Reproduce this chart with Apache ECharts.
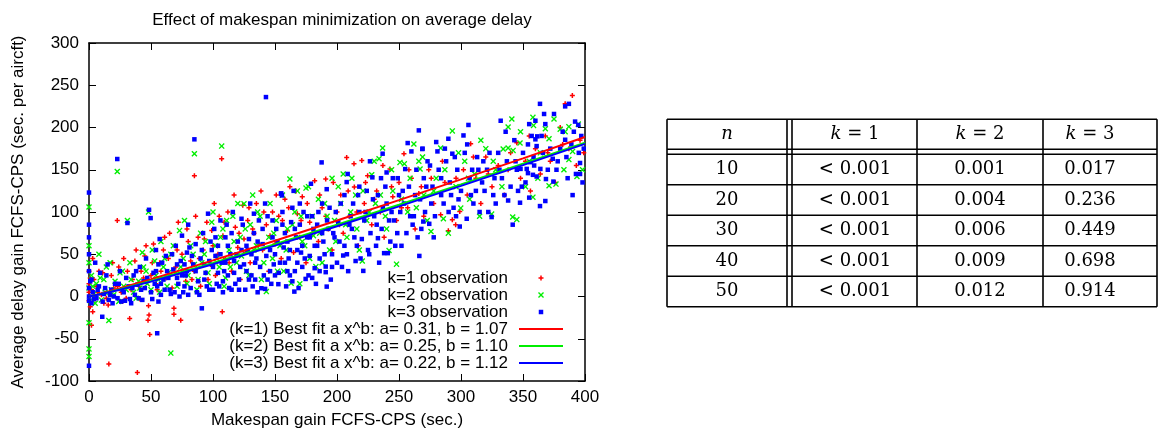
<!DOCTYPE html>
<html><head><meta charset="utf-8">
<script src="https://cdn.jsdelivr.net/npm/echarts@6/dist/echarts.min.js"></script>
<style>html,body{margin:0;padding:0;background:#fff}#c{width:1159px;height:431px}</style>
</head><body><div id="c"></div>
<script>
// ---------------- data ----------------
const k1Obs = [[0,5],[0,-5],[0,15],[0,30],[1,-12],[2,-34],[2,8],[3,45],[4,20],[5,-3],[6,12],[8,30],[10,2],[12,-8],[15.5,-10],[16,-80],[18,25],[20,10],[22.8,90],[24,35],[26,5],[28,45],[30,-2],[32.8,-26],[35,20],[38,55],[39,-90],[40,12],[42,30],[45,48],[47.6,-28],[48.4,-22],[48,-11],[49,-45],[50,25],[52,62],[55,8],[57,40],[60,55],[62,22],[65,75],[68.5,-14],[68.5,-21],[70,35],[72,88],[74,-28],[75,50],[78,18],[80,65],[82,42],[85,143],[85,30],[88,70],[90,12],[92,55],[95,88],[98,38],[100,60],[102,25],[105,95],[107,163],[107.5,-18],[108,72],[110,45],[112,100],[115,30],[118,82],[120,58],[122,20],[124,108],[125,68],[128,90],[130,40],[133,75],[135,110],[138.7,125],[140,55],[143,85],[145,30],[148,100],[150,62],[153,95],[155,45],[158,115],[160,78],[162,130],[165,52],[168,98],[170,70],[172,118],[175,40],[178,88],[182,137],[185,65],[188,105],[190.9,139],[193,80],[196,55],[200,100],[203,120],[205,75],[207.8,164.6],[210,95],[213.7,157],[214,129.5],[217,60],[220,161],[222,110],[224.7,142.8],[228,85],[232,125],[235,100],[238,70],[242.7,150.8],[245,118],[248,90],[250,135],[254,169],[257,105],[260,140],[263,80],[266,122],[270,95],[274,150],[278,110],[283.6,96.7],[287,135],[289.8,77.7],[293,90.8],[295.7,84.8],[299,100.6],[302,150],[305,120],[307.8,180.8],[312,140],[316,110],[320,165],[325,130],[330,155],[335,120],[340,170],[345,182],[348,140],[352,160],[356,125],[360,175],[364,145],[368,190],[372,160],[376,135],[380,200],[384,228],[387,175],[389.8,238],[393,155],[396,185],[399,170],
[1,22],[3,-18],[7,5],[11,28],[14,-2],[19,40],[23,12],[27,-6],[31,30],[34,8],[37,42],[41,-3],[44,22],[46,60],[51,40],[54,15],[58,30],[61,70],[64,45],[67,10],[71,55],[76,30],[79,80],[83,20],[86,95],[89,45],[93,68],[96,20],[99,78],[101,110],[104,50],[109,88],[113,40],[117,120],[121,75],[126,52],[129,105],[132,80],[137,62],[141,100],[146,72],[151,120],[156,90],[161,105],[167,125],[171,90],[176,110],[180,75],[186,120],[191,95],[197,135],[202,85],[209,125],[216,100],[223,135],[230,115],[237,155],[244,130],[252,105],[258,150],[268,130],[276,140],[285,160],[296,140],[310,165],[322,145],[338,150],[355,190],[370,170],[382,180]];

const k2Obs = [[0,106],[0,-62],[0,-71],[0,-31],[0,10],[0,40],[0,60],[1,-5],[2,25],[4,3],[6,15],[8,50],[10,-4],[12,20],[14,35],[16,-28.5],[18,8],[20,2],[22.8,148],[25,28],[28,12],[31,90],[33,40],[36,5],[40,18],[43,52],[46,30],[48,100],[50,8],[53,42],[56,20],[58,65],[60,35],[63,12],[66,-67],[66,50],[70,28],[73,78],[76,45],[79,15],[82,60],[85,169],[85,38],[88,20],[90,75],[93,50],[96,28],[99,88],[102,60],[105,35],[107,178],[108,80],[110,22],[113,55],[116,95],[119,40],[122,70],[125,109.7],[127,30],[130,85],[133,55],[136,100],[139,20],[143,5.8],[145,70],[148,45],[151,90],[154,60],[157,30],[160,80],[162,139],[163,15.7],[166,100],[170,15],[172,65],[175,128.3],[178,45],[180,95],[183,35.4],[186,75],[190,110],[194,55],[198,90],[201,130],[205,145],[208,70],[211,100],[215,120],[218,55],[220.4,42],[224,90],[228,144],[231,110],[233.9,163],[236.8,175.7],[240,80],[242,54.4],[245,125],[248,38.3],[250.8,158.7],[254.3,157],[257,100],[262,180.4],[266,160],[267,150.8],[270,120],[272.8,90],[275.8,76.9],[280,140],[283.6,175.7],[285.8,92],[289.8,75],[293,196],[296,130],[299.8,104.6],[303,160],[307,115],[311,145],[315,95],[320,175],[324.7,97.5],[328,150],[334,174.5],[338,175.7],[338,200.6],[341,210],[341.7,94],[342,172.9],[345,91],[347.6,181.6],[352,130],[355,160],[358,212],[358,117.6],[358.5,202.5],[362,140],[368,198.6],[371,186.7],[371,131],[376.6,133],[380,198],[384,195],[387,201],[387,162],[390,171.7],[393.5,142],[394.6,204],[398,150],
[3,12],[5,-8],[9,22],[13,5],[17,40],[21,18],[24,-6],[27,30],[30,8],[34,20],[38,-2],[41,10],[44,35],[47,15],[51,55],[54,25],[57,5],[61,45],[64,28],[68,60],[71,12],[74,35],[77,90],[80,25],[84,50],[87,8],[91,40],[94,65],[97,15],[100,100],[103,45],[106,70],[109,12],[111,90],[114,35],[117,65],[120,110],[123,48],[126,80],[129,25],[132,120],[135,60],[138,95],[141,40],[146,110],[149,75],[152,30],[156,120],[159,55],[164,85],[168,125],[171,95],[174,60],[177,130],[181,72],[185,115],[188,40],[192,95],[196,140],[199,65],[203,110],[207,85],[212,140],[216,80],[221,125],[226,100],[230,160],[235,120],[239,95],[244,150],[252,115],[259,140],[264,105],[269,165],[278,125],[287,150],[298,170],[306,140],[316,185],[326,160],[333,130],[348,195],[364,170],[375,210],[383,150]];

const k3Obs = [[0,123],[0,-82],[0,85],[0,70],[0,50],[0,30],[0,10],[0,-5],[0,0],[1,18],[2,-8],[3,5],[5,40],[6,-2],[8,12],[10.7,-24],[12,3],[14,25],[16,-4],[18,8],[20,0],[22.8,162.7],[24,15],[26,-6],[28,5],[31,87],[30,22],[33,-3],[35,10],[38,30],[40,-2],[42,8],[44,18],[48.4,102.6],[49.7,92.8],[46,45],[50,5],[52,28],[54,55],[55,-43.5],[55,12],[56,38],[57,68],[58,2],[60,20],[62,48],[65,8],[68,32],[70,60],[72,15],[74,42],[75,72],[76,5],[78,25],[79,52],[80,85],[82,10],[84,38],[85,186],[86,62],[88,18],[90,45],[91,-14],[92,75],[94,28],[96,98],[97,8],[99,55],[100,35],[101,80],[103,15],[104,60],[106,90],[107,40],[108,5],[110,70],[112,25],[114,50],[116,100],[118,15],[120,65],[122,35],[124,85],[126,8],[128,55],[130,110],[131,25],[133,75],[135,45],[136,5],[139,9.8],[140,62],[142,9],[142.7,236],[144,95],[146,30],[148,70],[150,50],[152.7,14.6],[154.8,121.6],[155,122],[155.6,119.6],[156,85],[158,40],[160,65],[162,25],[164,105],[165,125],[165.6,5.8],[168,55],[170,85],[172,35],[174.7,20.8],[176,70],[179,133.4],[180,95],[182,33.5],[184,60],[187.6,158.7],[188,110],[190.9,28.8],[190.9,35.4],[191.7,11.7],[191.7,127],[193,80],[196,50],[199,100],[202,65],[205,48.5],[207.8,135.4],[208.6,145],[210,85],[213,110],[216,60],[218,130],[221.2,30.3],[222,90],[226.6,160],[227,75],[228.5,141],[231.5,60],[233,69],[235.5,140],[236.8,169],[238,51.3],[240,146.8],[241,51.3],[244,100],[248.6,75],[250,120],[255,150.8],[256,75],[257,181.6],[260,171.7],[262,95],[266,196.6],[266.4,48],[268,80],[268.8,174.5],[269,175],[269.6,88.7],[272,130],[274.4,86],[276,110],[280,182.8],[281,171.7],[284,140],[287,175],[289.8,186.7],[292,120],[293,169],[296,95],[299,82.8],[302,190.6],[304.6,92],[306,203],[309,150],[312,125],[315,100],[318,160],[322,100],[324.7,94],[327,140],[332,208],[335,120],[338,113.6],[341.7,85],[345,150],[347.6,111],[348,151],[353,151],[354,146],[355,117],[355,204],[356,159],[358,144],[358.5,165],[360,208],[360,186],[361,142],[361,178],[361.5,189.5],[363.7,228],[363.7,107],[364,151],[367,216],[368,204],[368,113],[368.5,139],[374,163],[374.5,136],[375,216],[380,175],[384,225],[384,185.5],[387,228],[390,120],[392,207],[392.7,145],[394.6,203],[396,158],[398,135],[399,175],
[58,15],[63,30],[66,3],[71,22],[77,38],[81,58],[87,5],[93,20],[98,65],[102,48],[105,12],[109,30],[111,85],[115,8],[117,42],[121,20],[123,55],[127,30],[129,68],[132,12],[134,40],[137,90],[141,25],[143,48],[147,15],[149,38],[151,80],[153,28],[157,58],[159,12],[161,45],[163,88],[166,30],[167,70],[169,10],[171,52],[173,100],[177,25],[178,48],[181,80],[183,15],[185,100],[186,45],[189,65],[192,90],[195,20],[197,75],[200,40],[203,110],[206,60],[209,30],[211,95],[214,70],[217,120],[219,45],[223,100],[225,55],[229,115],[232,85],[234,40],[237,105],[239,130],[243,65],[246,90],[249,140],[252,60],[254,110],[258,130],[261,85],[264,150],[267,115],[271,100],[273,160],[277,130],[279,95],[282,150],[286,110],[288,160],[291,135],[294,105],[297,150],[300,125],[303,170],[307,140],[310,110],[313,165],[317,135],[321,150],[326,120],[330,170],[333,140],[337,160],[340,130],[343,185],[346,125],[350,170],[352,135],[357,190],[366,170],[370,150],[378,160],[382,195],[386,140],[389,180],[395,170],[397,190],
[2,20],[4,-3],[7,8],[9,28],[11,-6],[13,10],[15,38],[17,2],[19,-8],[21,15],[23,-2],[25,30],[27,8],[29,-5],[32,12],[34,-8],[36,25],[37,2],[39,14],[41,35],[43,-4],[45,10],[47,22],[51,-3],[53,15],[54,30],[56,-6],[59,40],[61,8],[64,22],[67,50],[69,5],[71,38],[73,0],[75,25],[77,12],[79,30],[80,2],[83,48],[86,30],[89,2],[91,55],[93,38],[95,12],[97,42],[100,8],[102,70],[104,28],[106,50],[108,18],[110,40],[112,60],[113,10],[115,75],[117,28],[119,50],[121,8],[123,92],[125,38],[127,60],[129,20],[131,50],[133,98],[134,20],[136,65],[138,35],[140,80],[142,110],[144,20],[146,55],[148,90],[150,25],[152,65],[154,40],[156,100],[158,75],[160,30],[162,55],[164,18],[166,80],[168,40],[170,110],[172,60],[174,45],[176,95],[178,70],[180,22],[182,60],[184,85],[186,30],[188,75],[190,50],[194,105],[196,35],[198,70],[201,88],[204,35],[206,120],[208,50],[212,80],[215,42],[218,100],[220,68],[224,125],[226,50],[230,95],[233,120],[236,80],[240,110],[242,90],[245,140],[247,60],[251,100],[253,125],[259,95],[263,120],[265,70],[270,140],[275,155],[278,70],[284,120],[290,100],[295,165],[298,115],[305,180],[308,120],[314,150],[319,125],[323,170],[328,110],[331,150],[336,195],[344,160],[349,130],[354,180],[359,155],[365,190],[372,175],[377,150],[385,165],[391,195],[396,145]];

const fitX  = [0, 10, 25, 50, 100, 150, 200, 250, 300, 350, 400];
const k1Fit = [0, 3.6, 9.7, 20.4, 42.8, 66.0, 89.9, 114.1, 138.6, 163.5, 188.7];
const k2Fit = [0, 3.1, 8.6, 18.5, 39.6, 61.9, 85.0, 108.5, 132.7, 157.2, 182.0];
const k3Fit = [0, 2.9, 8.1, 17.6, 38.2, 60.2, 83.1, 106.7, 130.9, 155.5, 180.6];

const obsNames = ['k=1 observation', 'k=2 observation', 'k=3 observation'];
const fitNames = ['(k=1) Best fit a x^b: a= 0.31, b = 1.07',
                  '(k=2) Best fit a x^b: a= 0.25, b = 1.10',
                  '(k=3) Best fit a x^b: a= 0.22, b = 1.12'];

const titleText = 'Effect of makespan minimization on average delay';
const xName = 'Makespan gain FCFS-CPS (sec.)';
const yName = 'Average delay gain FCFS-CPS (sec. per aircft)';

const tableHeader = ['{i|n}', '{i|k} = 1', '{i|k} = 2', '{i|k} = 3'];
const tableN  = ['10', '20', '30', '40', '50'];
const tableK1 = ['< 0.001', '< 0.001', '< 0.001', '< 0.001', '< 0.001'];
const tableK2 = ['0.001', '0.004', '0.006', '0.009', '0.012'];
const tableK3 = ['0.017', '0.236', '0.449', '0.698', '0.914'];

// ---------------- styles / layout ----------------
const COLORS = ['#ff0000', '#00ee00', '#0000ff'];
const SYM_PLUS = 'path://M3.5,0H6.5V3.5H10V6.5H6.5V10H3.5V6.5H0V3.5H3.5Z';
const SYM_X = 'path://M0,1.6L1.6,0L5,3.4L8.4,0L10,1.6L6.6,5L10,8.4L8.4,10L5,6.6L1.6,10L0,8.4L3.4,5Z';
const SYM_SQ = 'path://M0,0H10V10H0Z';
const symbols = [SYM_PLUS, SYM_X, SYM_SQ];
const symSizes = [5, 6, 4.5];
const FONT = 'Liberation Sans, Arial, Helvetica, sans-serif';
const SERIF = 'DejaVu Serif, Liberation Serif, serif';

function zip(xs, ys) { return xs.map((x, i) => [x, ys[i]]); }
const obsData = [k1Obs, k2Obs, k3Obs];
const fitData = [zip(fitX, k1Fit), zip(fitX, k2Fit), zip(fitX, k3Fit)];

const series = [];
obsNames.forEach((n, i) => series.push({
  name: n, type: 'scatter', data: obsData[i], symbol: symbols[i], symbolSize: symSizes[i],
  itemStyle: { color: COLORS[i], opacity: 1 }, z: 2 + i * 0.01, silent: true
}));
fitNames.forEach((n, i) => series.push({
  name: n, type: 'line', data: fitData[i], symbol: 'none', smooth: false,
  lineStyle: { color: COLORS[i], width: 2 }, itemStyle: { color: COLORS[i] }, z: 4 + i * 0.01, silent: true
}));

// legend: one component per row, text right-aligned, sample on the right
const LEG_RIGHT = 596, LEG_W = 44;
const rowCenters = [278, 295, 312, 329, 346, 363];
const legTextStyle = { fontSize: 17, fontFamily: FONT, color: '#000', lineHeight: 17, padding: [0, 6, 0, 0] };
const legends = [];
obsNames.forEach((n, i) => legends.push({
  data: [n], orient: 'horizontal', align: 'right',
  right: LEG_RIGHT + (LEG_W - symSizes[i]) / 2, top: rowCenters[i] - 8.5,
  itemWidth: LEG_W, itemHeight: symSizes[i], padding: 0, selectedMode: false, textStyle: legTextStyle
}));
fitNames.forEach((n, i) => legends.push({
  data: [{ name: n, icon: 'rect' }], orient: 'horizontal', align: 'right',
  right: LEG_RIGHT, top: rowCenters[i + 3] - 8.5,
  itemWidth: LEG_W, itemHeight: 2, padding: 0, selectedMode: false, textStyle: legTextStyle
}));

// table graphics
const colLines = [667, 787, 792, 917, 1043, 1157];
const rowLines = [119.3, 149.3, 154.3, 184.7, 215.3, 245.7, 276.3, 306.7];
const colCenters = [727, 855, 980, 1090];
const headerY = 134.5;
const bodyY = [169.5, 200, 230.5, 261, 291.5];
const graphic = [];
const LW = 1.6;
rowLines.forEach(y => graphic.push({ type: 'line', silent: true,
  shape: { x1: colLines[0], y1: y, x2: colLines[colLines.length - 1], y2: y },
  style: { stroke: '#000', lineWidth: LW } }));
colLines.forEach(x => graphic.push({ type: 'line', silent: true,
  shape: { x1: x, y1: rowLines[0], x2: x, y2: rowLines[rowLines.length - 1] },
  style: { stroke: '#000', lineWidth: LW } }));
function cellText(txt, x, y) {
  return { type: 'text', silent: true, x: x, y: y,
    style: { text: txt, fontSize: 18, fontFamily: SERIF, fill: '#000',
      align: 'center', verticalAlign: 'middle', textAlign: 'center', textVerticalAlign: 'middle',
      rich: { i: { fontStyle: 'italic', fontSize: 18, fontFamily: SERIF, fill: '#000' } } } };
}
tableHeader.forEach((t, j) => graphic.push(cellText(t, colCenters[j], headerY)));
const cols = [tableN, tableK1, tableK2, tableK3];
cols.forEach((col, j) => col.forEach((t, r) => graphic.push(cellText(t, colCenters[j], bodyY[r]))));

const axisCommon = {
  type: 'value', splitLine: { show: false },
  axisLine: { show: true, onZero: false, lineStyle: { color: '#000', width: 1.5 } },
  axisTick: { show: true, inside: true, length: 7, lineStyle: { color: '#000', width: 1 } }
};

const option = {
  animation: false,
  backgroundColor: '#fff',
  title: { text: titleText, left: 337, top: 7, textAlign: 'center',
    textStyle: { fontSize: 17, fontWeight: 'normal', fontFamily: FONT, color: '#000' } },
  grid: { left: 89, right: 574, top: 43, bottom: 50, containLabel: false, outerBoundsMode: 'none' },
  xAxis: [
    Object.assign({}, axisCommon, { position: 'bottom', min: 0, max: 400, interval: 50,
      name: xName, nameLocation: 'middle', nameGap: 31,
      nameTextStyle: { fontSize: 17, fontFamily: FONT, color: '#000' },
      axisLabel: { fontSize: 17, fontFamily: FONT, color: '#000', margin: 8 } }),
    Object.assign({}, axisCommon, { position: 'top', min: 0, max: 400, interval: 50,
      axisLabel: { show: false } })
  ],
  yAxis: [
    Object.assign({}, axisCommon, { position: 'left', min: -100, max: 300, interval: 50,
      name: yName, nameLocation: 'middle', nameGap: 62, nameRotate: 90,
      nameTextStyle: { fontSize: 17, fontFamily: FONT, color: '#000' },
      axisLabel: { fontSize: 17, fontFamily: FONT, color: '#000', margin: 10 } }),
    Object.assign({}, axisCommon, { position: 'right', min: -100, max: 300, interval: 50,
      axisLabel: { show: false } })
  ],
  legend: legends,
  series: series,
  graphic: graphic
};

const chart = echarts.init(document.getElementById('c'));
chart.setOption(option);
</script>
</body></html>
